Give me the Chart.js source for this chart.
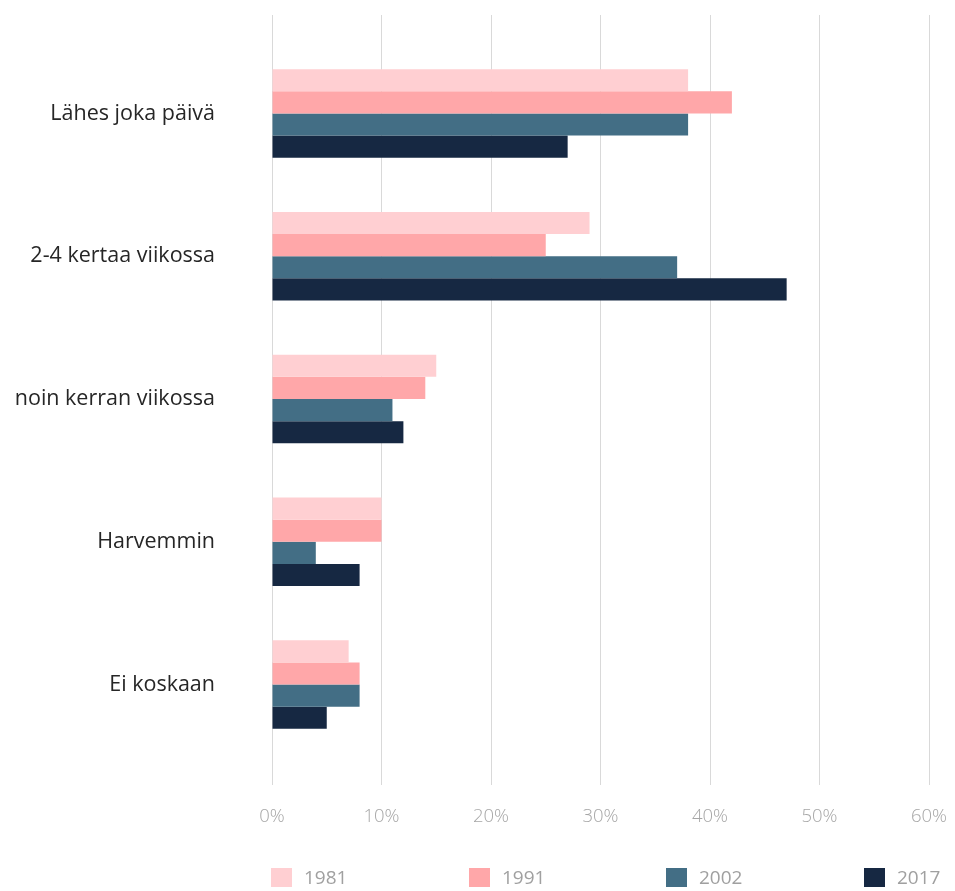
<!DOCTYPE html>
<html lang="fi">
<head>
    <meta charset="UTF-8">
    <title>Kuinka usein</title>
    <script src="https://cdn.jsdelivr.net/npm/chart.js"></script>
    <style>
        html, body { margin: 0; padding: 0; background: #fff; }
        #wrap { position: relative; width: 955px; height: 891px; }
        #legend { position: absolute; left: 0; top: 866px; width: 955px; height: 22px;
                  font-family: "Open Sans", sans-serif; font-size: 19px; color: #a0a0a0; }
        .item { position: absolute; top: 0; display: flex; align-items: center; height: 22px; }
        .box { width: 21px; height: 19px; margin-right: 12px; }
    </style>
</head>
<body>
    <div id="wrap">
        <canvas id="chart" width="955" height="891"></canvas>
        <div id="legend"></div>
    </div>

    <script>
        // data (percent)
        const categories = ['Lähes joka päivä', '2-4 kertaa viikossa', 'noin kerran viikossa', 'Harvemmin', 'Ei koskaan'];
        const years = ['1981', '1991', '2002', '2017'];
        const v1981 = [38, 29, 15, 10, 7];
        const v1991 = [42, 25, 14, 10, 8];
        const v2002 = [38, 37, 11, 4, 8];
        const v2017 = [27, 47, 12, 8, 5];
        const xTicks = [0, 10, 20, 30, 40, 50, 60];

        const colors = ['#ffcfd2', '#ffa7a9', '#436e85', '#162842'];
        const series = [v1981, v1991, v2002, v2017];

        const gridColor = '#d9d9d9';

        const datasets = years.map((y, i) => ({
            label: y,
            data: series[i],
            backgroundColor: colors[i],
            borderWidth: 0,
            categoryPercentage: 0.62,
            barPercentage: 1.0
        }));

        const ctx = document.getElementById('chart').getContext('2d');
        new Chart(ctx, {
            type: 'bar',
            data: { labels: categories, datasets: datasets },
            options: {
                indexAxis: 'y',
                responsive: false,
                animation: false,
                layout: { padding: { top: 15, right: 26, bottom: 60, left: 0 } },
                plugins: {
                    legend: { display: false },
                    tooltip: { enabled: false }
                },
                scales: {
                    x: {
                        position: 'bottom',
                        min: 0,
                        max: 60,
                        afterBuildTicks: s => { s.ticks = xTicks.map(v => ({ value: v })); },
                        grid: { color: gridColor, lineWidth: 1, tickLength: 29, tickColor: gridColor },
                        border: { display: false },
                        ticks: {
                            padding: 21,
                            color: '#a6a6a6',
                            font: { family: 'Open Sans', size: 18.5, weight: 300 },
                            callback: v => v + '%'
                        },
                        afterFit: s => { s.height = 75; s.paddingLeft = 0; s.paddingRight = 0; }
                    },
                    // only draws the short gridline stubs above the plot
                    x2: {
                        type: 'linear',
                        position: 'top',
                        min: 0,
                        max: 60,
                        afterBuildTicks: s => { s.ticks = xTicks.map(v => ({ value: v })); },
                        grid: { drawOnChartArea: false, tickLength: 27, tickColor: gridColor },
                        border: { display: false },
                        ticks: { display: false },
                        afterFit: s => { s.height = 27; s.paddingLeft = 0; s.paddingRight = 0; }
                    },
                    y: {
                        grid: { display: false, drawTicks: false },
                        border: { display: false },
                        ticks: {
                            padding: 57,
                            color: '#262626',
                            font: { family: 'Open Sans', size: 21.5 }
                        },
                        afterFit: s => { s.width = 272; s.paddingTop = 0; s.paddingBottom = 0; }
                    }
                }
            }
        });

        // legend laid out like the original, below the axis
        const legendX = [271, 469, 666, 864];
        const legend = document.getElementById('legend');
        years.forEach((y, i) => {
            const item = document.createElement('div');
            item.className = 'item';
            item.style.left = legendX[i] + 'px';
            item.innerHTML = '<span class="box" style="background:' + colors[i] + '"></span><span>' + y + '</span>';
            legend.appendChild(item);
        });
    </script>
</body>
</html>
